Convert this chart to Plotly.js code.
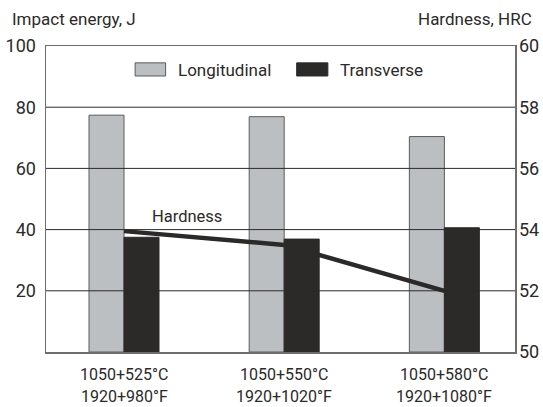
<!DOCTYPE html>
<html>
<head>
<meta charset="utf-8">
<script src="https://cdn.plot.ly/plotly-3.0.1.min.js"></script>
<style>html,body{margin:0;padding:0;background:#fff;}#chart{width:543px;height:407px;}</style>
</head>
<body>
<div id="chart"></div>
<script>
const categories = ["1050+525°C|1920+980°F", "1050+550°C|1920+1020°F", "1050+580°C|1920+1080°F"];
const celsiusLabels = ["1050+525°C", "1050+550°C", "1050+580°C"];
const fahrenheitLabels = ["1920+980°F", "1920+1020°F", "1920+1080°F"];
const longitudinal = [77.4, 76.9, 70.4];
const transverse = [37.5, 36.9, 40.6];
const hardness = [53.95, 53.5, 52.0];
const leftTicks = [20, 40, 60, 80, 100];
const rightTicks = [50, 52, 54, 56, 58, 60];
const gridValues = [20, 40, 60, 80];

const FONT = "Roboto, 'Noto Sans', sans-serif";
const TXT = "#2b2a29";

const traces = [
  {type: "bar", name: "Longitudinal", x: categories, y: longitudinal,
   marker: {color: "#bcbfc1", line: {color: "#5a5a5a", width: 1}}, showlegend: false, hoverinfo: "y"},
  {type: "bar", name: "Transverse", x: categories, y: transverse,
   marker: {color: "#2b2a29", line: {color: "#2b2a29", width: 1}}, showlegend: false, hoverinfo: "y"},
  {type: "scatter", mode: "lines", name: "Hardness", x: categories, y: hardness, yaxis: "y2",
   line: {color: "#2b2a29", width: 4.5}, showlegend: false}
];

const catAnnotations = [];
categories.forEach((c, i) => {
  catAnnotations.push({text: celsiusLabels[i], xref: "x", yref: "paper", x: c, y: -0.072,
    xanchor: "center", yanchor: "middle", showarrow: false, font: {family: FONT, size: 16, color: TXT}});
  catAnnotations.push({text: fahrenheitLabels[i], xref: "x", yref: "paper", x: c, y: -0.146,
    xanchor: "center", yanchor: "middle", showarrow: false, font: {family: FONT, size: 16, color: TXT}});
});

const gridShapes = gridValues.map(v => ({type: "line", xref: "paper", yref: "y", x0: 0, x1: 1, y0: v, y1: v,
  layer: "above", line: {color: "#2b2a29", width: 1}}));

const layout = {
  width: 543, height: 407,
  margin: {l: 46, r: 28, t: 46, b: 55},
  paper_bgcolor: "#fff", plot_bgcolor: "#fff",
  font: {family: FONT, color: TXT},
  barmode: "group", bargap: 0.563, bargroupgap: 0,
  showlegend: false,
  xaxis: {type: "category", range: [-0.487, 2.441], showgrid: false, zeroline: false,
          showline: true, linecolor: "#6e6e6e", linewidth: 1.5, mirror: true, ticks: "",
          showticklabels: false},
  yaxis: {range: [0, 100], tickvals: leftTicks, ticktext: leftTicks.map(String),
          showgrid: false, zeroline: false,
          showline: true, linecolor: "#6e6e6e", linewidth: 1.5, mirror: true, ticks: "",
          tickfont: {family: FONT, size: 18, color: TXT}, ticklabelstandoff: 5},
  yaxis2: {range: [50, 60], tickvals: rightTicks, ticktext: rightTicks.map(String),
           overlaying: "y", side: "right", showgrid: false, zeroline: false,
           showline: false, ticks: "",
           tickfont: {family: FONT, size: 18, color: TXT}, ticklabelstandoff: 3},
  shapes: gridShapes.concat([
    {type: "rect", xref: "paper", yref: "paper", x0: 0.19, x1: 0.255, y0: 0.902, y1: 0.945,
     fillcolor: "#bcbfc1", line: {color: "#5a5a5a", width: 1}},
    {type: "rect", xref: "paper", yref: "paper", x0: 0.5345, x1: 0.601, y0: 0.902, y1: 0.945,
     fillcolor: "#2b2a29", line: {color: "#2b2a29", width: 1}}
  ]),
  annotations: [
    {text: "Longitudinal", xref: "paper", yref: "paper", x: 0.277, y: 0.923, xanchor: "left", yanchor: "middle",
     showarrow: false, font: {family: FONT, size: 17, color: TXT}},
    {text: "Transverse", xref: "paper", yref: "paper", x: 0.6226, y: 0.923, xanchor: "left", yanchor: "middle",
     showarrow: false, font: {family: FONT, size: 17, color: TXT}},
    {text: "Hardness", xref: "paper", yref: "paper", x: 0.2997, y: 0.444, xanchor: "center", yanchor: "middle",
     showarrow: false, font: {family: FONT, size: 16.5, color: TXT}},
    {text: "Impact energy, J", xref: "paper", yref: "paper", x: -0.0768, y: 1.088, xanchor: "left", yanchor: "middle",
     showarrow: false, font: {family: FONT, size: 17, color: TXT}},
    {text: "Hardness, HRC", xref: "paper", yref: "paper", x: 1.0405, y: 1.088, xanchor: "right", yanchor: "middle",
     showarrow: false, font: {family: FONT, size: 17, color: TXT}}
  ].concat(catAnnotations)
};

Plotly.newPlot("chart", traces, layout, {displayModeBar: false, staticPlot: true});
</script>
</body>
</html>
